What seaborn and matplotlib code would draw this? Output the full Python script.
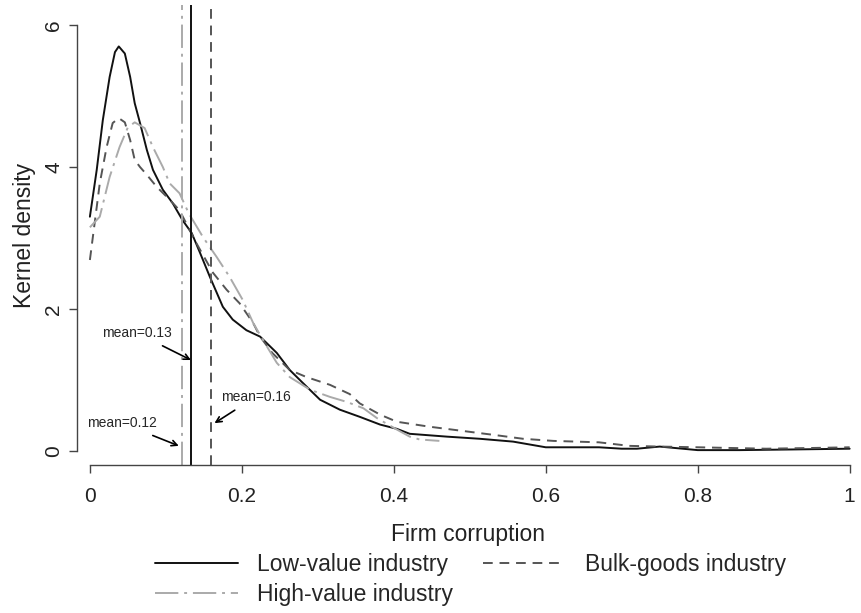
import numpy as np
import pandas as pd
import seaborn as sns
import matplotlib.pyplot as plt
from matplotlib.lines import Line2D

sns.set_style("ticks")
plt.rcParams['font.family'] = ['Liberation Sans', 'DejaVu Sans']

# density curves
low_x = [0, 0.009, 0.017, 0.026, 0.033, 0.038, 0.046, 0.053, 0.059, 0.066, 0.075, 0.083,
         0.096, 0.109, 0.122, 0.134, 0.145, 0.158, 0.175, 0.188, 0.206, 0.224, 0.246, 0.263,
         0.28, 0.303, 0.329, 0.355, 0.382, 0.404, 0.421, 0.47, 0.513, 0.557, 0.60, 0.67,
         0.70, 0.72, 0.75, 0.80, 0.855, 0.93, 1.0]
low_y = [3.30, 3.96, 4.66, 5.27, 5.62, 5.70, 5.60, 5.27, 4.90, 4.62, 4.24, 3.96,
         3.68, 3.49, 3.25, 3.07, 2.79, 2.45, 2.03, 1.85, 1.70, 1.61, 1.38, 1.14,
         0.96, 0.72, 0.58, 0.48, 0.37, 0.31, 0.24, 0.20, 0.17, 0.13, 0.05, 0.05,
         0.03, 0.03, 0.06, 0.01, 0.01, 0.02, 0.03]

bulk_x = [0, 0.013, 0.022, 0.030, 0.038, 0.046, 0.053, 0.059, 0.066, 0.075, 0.088, 0.105,
          0.118, 0.14, 0.162, 0.18, 0.197, 0.215, 0.224, 0.24, 0.263, 0.285, 0.316, 0.342,
          0.355, 0.382, 0.404, 0.447, 0.491, 0.535, 0.57, 0.61, 0.67, 0.71, 0.75, 0.80,
          0.89, 0.95, 1.0]
bulk_y = [2.69, 3.77, 4.28, 4.62, 4.69, 4.63, 4.38, 4.10, 4.0, 3.89, 3.72, 3.54,
          3.39, 2.93, 2.51, 2.27, 2.08, 1.80, 1.61, 1.38, 1.14, 1.04, 0.93, 0.80,
          0.67, 0.51, 0.41, 0.34, 0.28, 0.22, 0.17, 0.14, 0.12, 0.07, 0.06, 0.05,
          0.03, 0.04, 0.05]

high_x = [0, 0.013, 0.026, 0.039, 0.05, 0.059, 0.072, 0.083, 0.096, 0.105, 0.118, 0.13,
          0.149, 0.167, 0.184, 0.201, 0.215, 0.228, 0.246, 0.263, 0.29, 0.316, 0.338,
          0.36, 0.378, 0.404, 0.421, 0.434, 0.46]
high_y = [3.15, 3.30, 3.86, 4.28, 4.56, 4.63, 4.55, 4.28, 4.0, 3.77, 3.63, 3.35,
          3.01, 2.73, 2.45, 2.13, 1.80, 1.56, 1.24, 1.04, 0.86, 0.76, 0.69,
          0.60, 0.46, 0.30, 0.20, 0.16, 0.14]

series_names = ["Low-value industry", "High-value industry", "Bulk-goods industry"]
means = [0.133, 0.121, 0.16]
mean_labels = ["mean=0.13", "mean=0.12", "mean=0.16"]

df_low = pd.DataFrame({"x": low_x, "y": low_y})
df_bulk = pd.DataFrame({"x": bulk_x, "y": bulk_y})
df_high = pd.DataFrame({"x": high_x, "y": high_y})

fig = plt.figure(figsize=(8.61, 6.13), dpi=100)
ax = fig.add_axes([0.0894, 0.2414, 0.908, 0.750])

lw = 1.4
c_low, c_bulk, c_high = "#111111", "#555555", "#aaaaaa"
dash_bulk = (5, 3.5)
dash_high = (12, 3, 1.5, 3)

sns.lineplot(data=df_low, x="x", y="y", color=c_low, lw=lw, ax=ax, estimator=None)
sns.lineplot(data=df_bulk, x="x", y="y", color=c_bulk, lw=lw, ax=ax, estimator=None)
ax.lines[-1].set_dashes(dash_bulk)
sns.lineplot(data=df_high, x="x", y="y", color=c_high, lw=lw, ax=ax, estimator=None)
ax.lines[-1].set_dashes(dash_high)

# mean lines
ax.axvline(means[0], color=c_low, lw=lw)
ax.axvline(means[1], color=c_high, lw=lw, dashes=dash_high)
ax.axvline(means[2], color=c_bulk, lw=lw, dashes=dash_bulk)

arrow = dict(arrowstyle="->", color="black", lw=1.2, shrinkA=4, shrinkB=0)
ax.annotate(mean_labels[0], xy=(0.133, 1.28), xytext=(0.062, 1.66),
            ha="center", va="center", fontsize=10, arrowprops=arrow)
ax.annotate(mean_labels[1], xy=(0.117, 0.07), xytext=(0.042, 0.39),
            ha="center", va="center", fontsize=10, arrowprops=arrow)
ax.annotate(mean_labels[2], xy=(0.164, 0.39), xytext=(0.218, 0.76),
            ha="center", va="center", fontsize=10, arrowprops=arrow)

ax.set_xlim(-0.017, 1.012)
ax.set_ylim(-0.2, 6.28)
ax.set_xticks([0, 0.2, 0.4, 0.6, 0.8, 1.0])
ax.set_xticklabels(["0", "0.2", "0.4", "0.6", "0.8", "1"])
ax.set_yticks([0, 2, 4, 6])
ax.set_yticklabels(["0", "2", "4", "6"], rotation=90, va="center")
ax.spines["top"].set_visible(False)
ax.spines["right"].set_visible(False)
ax.spines["left"].set_bounds(0, 6)
ax.spines["bottom"].set_bounds(0, 1)
for s in ["left", "bottom"]:
    ax.spines[s].set_color("#444444")
    ax.spines[s].set_linewidth(1.0)
ax.tick_params(colors="#444444", labelcolor="#222222", length=5.8, width=1.0, labelsize=15)
ax.tick_params(axis="x", pad=10)
ax.tick_params(axis="y", pad=4)
ax.set_xlabel("Firm corruption", fontsize=16.5, color="#222222", labelpad=12)
ax.set_ylabel("Kernel density", fontsize=16.5, color="#222222", labelpad=6)

handles = [Line2D([], [], color=c_low, lw=lw),
           Line2D([], [], color=c_high, lw=lw, dashes=dash_high),
           Line2D([], [], color=c_bulk, lw=lw, dashes=dash_bulk)]
fig.legend(handles, series_names, loc="upper left", bbox_to_anchor=(155 / 861, 1 - 553 / 613),
           ncol=2, frameon=False, fontsize=16.5, handlelength=3.6, handletextpad=0.85,
           columnspacing=1.3, labelspacing=0.3, borderpad=0, borderaxespad=0)

fig.savefig("out.png", dpi=100)
